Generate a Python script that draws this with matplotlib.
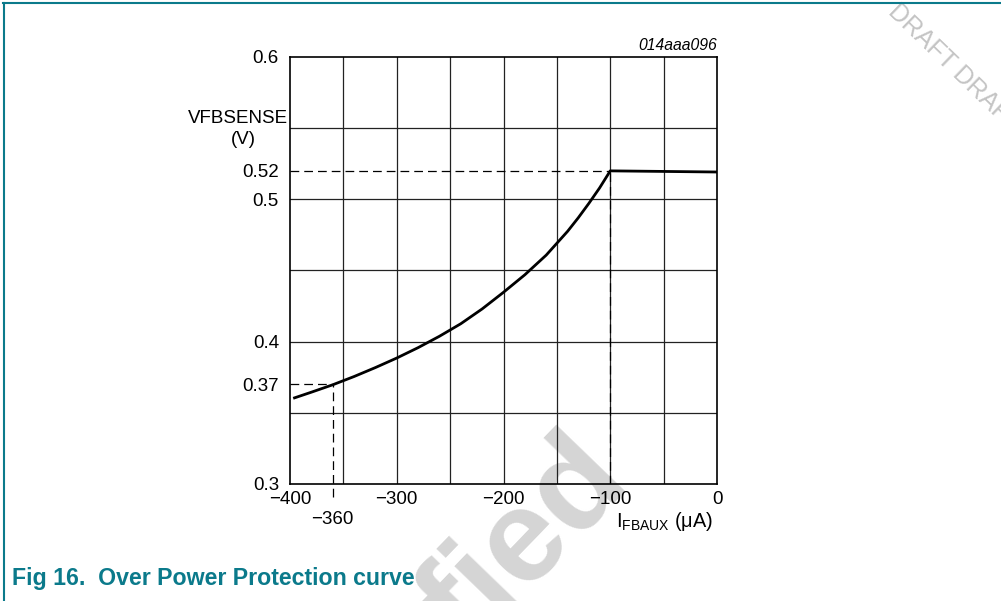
import numpy as np
import matplotlib
matplotlib.use("Agg")
import matplotlib.pyplot as plt
from matplotlib.lines import Line2D

plt.rcParams['font.family'] = ['Liberation Sans', 'DejaVu Sans']
plt.rcParams['mathtext.fontset'] = 'custom'
plt.rcParams['mathtext.rm'] = 'Liberation Sans'
plt.rcParams['mathtext.it'] = 'Liberation Sans:italic'

# curve: I_FBAUX (uA) -> VFBSENSE (V)
i_fbaux = [-397, -380, -360, -340, -320, -300, -280, -260, -240, -220,
           -200, -180, -160, -140, -130, -120, -110, -100, -50, 0]
v_sense = [0.3602, 0.3645, 0.3697, 0.3755, 0.3818, 0.3885, 0.3958, 0.4038, 0.4126, 0.4230,
           0.4347, 0.4470, 0.4608, 0.4775, 0.4870, 0.4972, 0.5080, 0.5200, 0.5196, 0.5192]

# reference markers (dashed)
ref_x = [-360, -100]
ref_y = [0.37, 0.52]

x_grid = [-350, -300, -250, -200, -150, -100, -50]
y_grid = [0.35, 0.40, 0.45, 0.50, 0.55]
x_ticks = [-400, -360, -300, -200, -100, 0]
x_labels = ["\u2212400", "\n\u2212360", "\u2212300", "\u2212200", "\u2212100", "0"]
y_ticks = [0.3, 0.37, 0.4, 0.5, 0.52, 0.6]
y_labels = ["0.3", "0.37", "0.4", "0.5", "0.52", "0.6"]

teal = "#0b7a8b"
fs = 13.5

fig = plt.figure(figsize=(10.01, 6.01), dpi=100)
ax = fig.add_axes([290 / 1001, 1 - 484 / 601, 427 / 1001, 427 / 601])
ax.patch.set_alpha(0)

ax.set_xlim(-400, 0)
ax.set_ylim(0.3, 0.6)

for gx in x_grid:
    ax.axvline(gx, color="#222222", lw=0.9, zorder=1)
for gy in y_grid:
    ax.axhline(gy, color="#222222", lw=0.9, zorder=1)

# dashed guides
dash = dict(color="black", lw=0.9, dashes=(7, 4), zorder=2)
ax.plot([-400, ref_x[1]], [ref_y[1], ref_y[1]], **dash)
ax.plot([ref_x[1], ref_x[1]], [0.3, ref_y[1]], **dash)
ax.plot([-400, ref_x[0]], [ref_y[0], ref_y[0]], **dash)
ax.plot([ref_x[0], ref_x[0]], [0.291, ref_y[0]], clip_on=False, **dash)

ax.plot(i_fbaux, v_sense, color="black", lw=2.0, zorder=3,
        solid_capstyle="butt", solid_joinstyle="round")

for s in ax.spines.values():
    s.set_linewidth(1.2)

ax.set_xticks(x_ticks)
ax.set_xticklabels(x_labels)
ax.set_yticks(y_ticks)
ax.set_yticklabels(y_labels)
ax.tick_params(length=0, labelsize=fs)
ax.tick_params(axis="x", pad=5)
ax.tick_params(axis="y", pad=8)

ax.text(-0.005, 0.857, "VFBSENSE", transform=ax.transAxes, ha="right",
        va="center", fontsize=fs)
ax.text(-0.11, 0.806, "(V)", transform=ax.transAxes, ha="center",
        va="center", fontsize=fs)
ax.text(0.99, -0.088, r"$\mathrm{I}_{\mathrm{FBAUX}}$ (" + "\u03bc" + "A)",
        transform=ax.transAxes, ha="right", va="center", fontsize=14.3)
ax.text(1.0, 1.028, "014aaa096", transform=ax.transAxes, ha="right",
        va="center", fontsize=11.3, style="italic")

# page frame and caption
fig.add_artist(Line2D([3 / 1001, 1], [1 - 3 / 601, 1 - 3 / 601], color=teal, lw=1.5))
fig.add_artist(Line2D([4 / 1001, 4 / 1001], [0, 1 - 3 / 601], color=teal, lw=1.5))
fig.text(12 / 1001, 1 - 579 / 601, "Fig 16.  Over Power Protection curve",
         color=teal, fontsize=16.7, fontweight="bold", va="center")

# watermarks
fig.text(632 / 1001, 1 - 482 / 601, "fied", color="#d5d5d5", fontsize=95,
         fontweight="bold", rotation=46, rotation_mode="anchor",
         ha="right", va="baseline", zorder=-1)
fig.text(900 / 1001, 1 + 1 / 601, "DRAFT DRAFT", color="#c4c4c4", fontsize=18,
         rotation=-44, rotation_mode="anchor", ha="left", va="top", zorder=-1)

fig.savefig("out.png", dpi=100)
